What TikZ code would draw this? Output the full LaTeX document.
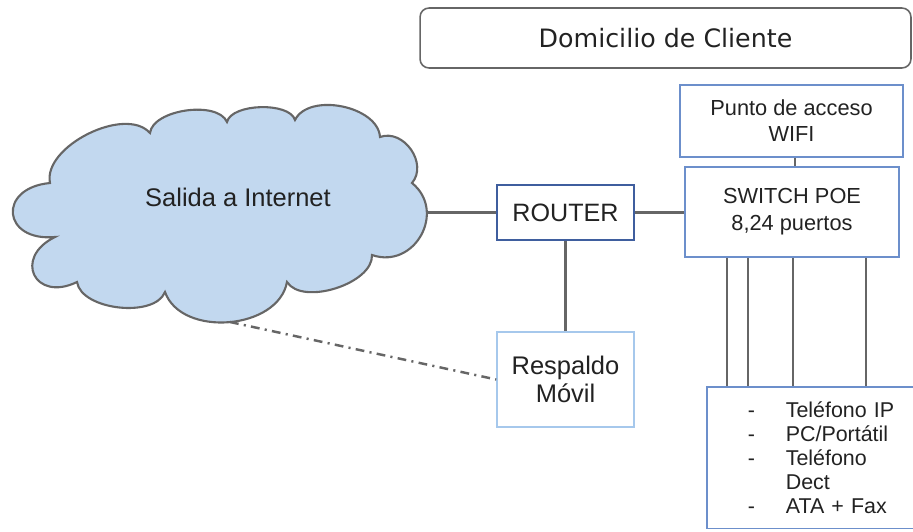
\documentclass[tikz,border=0pt]{standalone}
\usepackage{fontspec}
\setmainfont{Liberation Sans}
\newfontfamily\sitefont{DejaVu Sans}
\usetikzlibrary{shapes,positioning}
\definecolor{cloudfill}{HTML}{C2D8EF}
\definecolor{linkgray}{HTML}{666666}
\definecolor{boxblue}{HTML}{6C8FCB}
\definecolor{routerblue}{HTML}{3F5E9E}
\definecolor{lightblue}{HTML}{A6C8EC}
\definecolor{textgray}{HTML}{222222}
\tikzstyle{sitebox} = [rectangle, rounded corners=0.18cm, draw=linkgray, line width=0.9pt, minimum width=9.82cm, minimum height=1.2cm, text=textgray, font=\sitefont\fontsize{14.4}{16}\selectfont]
\tikzstyle{puff} = [draw=linkgray, line width=1.2pt, fill=cloudfill]
\tikzstyle{routerbox} = [rectangle, draw=routerblue, line width=0.9pt, minimum width=2.74cm, minimum height=1.1cm, text=textgray, font=\fontsize{14.3}{16}\selectfont]
\tikzstyle{switchbox} = [rectangle, draw=boxblue, line width=0.9pt, minimum width=4.28cm, minimum height=1.8cm, align=center, text=textgray, font=\fontsize{12.4}{15.3}\selectfont]
\tikzstyle{apbox} = [rectangle, draw=boxblue, line width=0.9pt, minimum width=4.46cm, minimum height=1.44cm, align=center, text=textgray, font=\fontsize{12.4}{14.7}\selectfont]
\tikzstyle{backupbox} = [rectangle, draw=lightblue, line width=0.9pt, minimum width=2.74cm, minimum height=1.9cm, align=center, text=textgray, font=\fontsize{14.5}{15.9}\selectfont]
\tikzstyle{devicebox} = [rectangle, draw=boxblue, line width=0.9pt, inner xsep=0.82cm, inner ysep=0.3cm, text width=5cm, align=left, text=textgray, font=\fontsize{12.2}{13.6}\selectfont]
\tikzstyle{link} = [draw=linkgray, line width=1.4pt]
\tikzstyle{backup} = [link, dash pattern=on 5pt off 3pt on 1.2pt off 3pt]

\begin{document}
\begin{tikzpicture}[x=0.02cm, y=-0.02cm]
\clip (0,0) rectangle (913,531);

% Domicilio de Cliente
\node[sitebox] (site) at (665.5,38) {Domicilio de Cliente};

% Salida a Internet (nube)
\path[puff] (50,183) to[bend left=75, looseness=0.85] (150,133)
  to[bend left=75, looseness=0.78] (227,122)
  to[bend left=75, looseness=0.72] (295,120)
  to[bend left=75, looseness=0.92] (380,137)
  to[bend left=75, looseness=1.15] (412,183)
  to[bend left=80, looseness=1.4] (372,255)
  to[bend left=75, looseness=0.82] (287,282)
  to[bend left=75, looseness=1.02] (165,292)
  to[bend left=75, looseness=0.82] (77,282)
  to[bend left=90, looseness=2.4] (55,237)
  to[bend left=90, looseness=2.5] cycle;
\node[text=textgray, font=\fontsize{14.5}{17}\selectfont] (cloud) at (238,197) {Salida a Internet};
\coordinate (cloudeast) at (428,212);
\coordinate (cloudfoot) at (230,322);

% Router
\node[routerbox] (router) at (565.5,212.5) {ROUTER};
\draw[link] (router.west -| cloudeast) -- (router.west);

% Switch POE
\node[switchbox] (switch) at (792,212) {SWITCH POE\\8,24 puertos};
\draw[link] (router.east) -- (router.east -| switch.west);

% Punto de acceso WIFI
\node[apbox] (wifi) at (791.5,121) {Punto de acceso\\WIFI};
\draw[link] (wifi.south -| 795,0) -- (switch.north -| 795,0);

% Respaldo Movil
\node[backupbox] (movil) at (565.5,379.5) {Respaldo\\M\'ovil};
\draw[link] (router) -- (movil);
\draw[backup] (cloudfoot) -- (movil.west);

% Equipos
\node[devicebox, anchor=north west] (devices) at (706,386) {\makebox[0.76cm][l]{-}Tel\'efono IP\\
\makebox[0.76cm][l]{-}PC/Port\'atil\\
\makebox[0.76cm][l]{-}Tel\'efono\\
\makebox[0.76cm][l]{}Dect\\
\makebox[0.76cm][l]{-}ATA + Fax};
\foreach \x in {727,748,793,866}
  \draw[link] (\x,0 |- switch.south) -- (\x,0 |- devices.north);

\end{tikzpicture}
\end{document}
